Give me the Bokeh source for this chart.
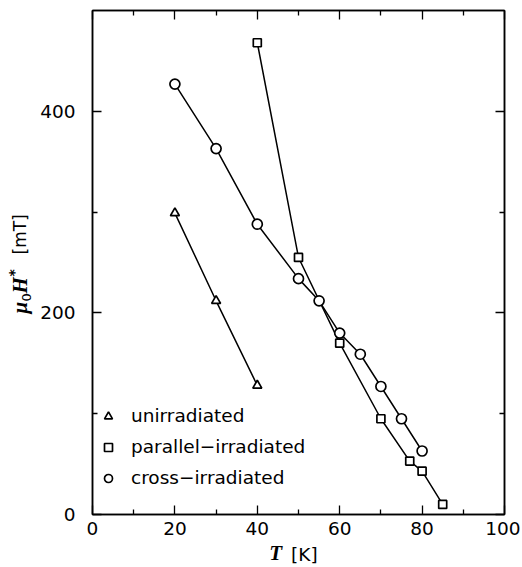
from bokeh.plotting import figure
from bokeh.models import (FixedTicker, LinearAxis, Legend, LegendItem, Label, Range1d)
from bokeh.layouts import row
from bokeh.embed import file_html
from bokeh.resources import INLINE

# ---- data ----
T_un = [20, 30, 40]
H_un = [299, 212, 128]
T_par = [40, 50, 60, 70, 77, 80, 85]
H_par = [468, 255, 170, 95, 53, 43, 10]
T_cross = [20, 30, 40, 50, 55, 60, 65, 70, 75, 80]
H_cross = [427, 363, 288, 234, 212, 180, 159, 127, 95, 63]
labels = ["unirradiated", "parallel\u2212irradiated", "cross\u2212irradiated"]
x_ticks = [0, 20, 40, 60, 80, 100]
x_minor = [10, 30, 50, 70, 90]
y_ticks = [0, 200, 400]
y_minor = [100, 300]

SANS = "DejaVu Sans"
SERIF = "Liberation Serif"
FS = "18.5px"

YLAB_W = 36
MAIN_W = 484
MAIN_H = 566
FRAME_TOP = 10
FRAME_BOTTOM = 514

p = figure(width=MAIN_W, height=MAIN_H, output_backend="svg", toolbar_location=None,
           x_range=Range1d(0, 100), y_range=Range1d(0, 500),
           min_border_left=92 - YLAB_W, min_border_right=16, min_border_top=FRAME_TOP,
           min_border_bottom=MAIN_H - FRAME_BOTTOM, x_axis_type=None, y_axis_type=None)
p.grid.visible = False
p.outline_line_color = "black"
p.outline_line_width = 1.5
p.background_fill_color = "white"
p.border_fill_color = "white"

def style_axis(ax, show_labels):
    ax.axis_line_color = "black"
    ax.axis_line_width = 1.5
    ax.major_tick_line_width = 1.3
    ax.minor_tick_line_width = 1.3
    ax.major_tick_in = 9
    ax.major_tick_out = 0
    ax.minor_tick_in = 5
    ax.minor_tick_out = 0
    ax.major_label_text_font = SANS
    ax.major_label_text_font_size = FS
    ax.major_label_text_color = "black"
    if not show_labels:
        ax.major_label_text_font_size = "1px"
        ax.major_label_standoff = 0

xb = LinearAxis(ticker=FixedTicker(ticks=x_ticks, minor_ticks=x_minor))
style_axis(xb, True)
xb.major_label_standoff = 7
p.add_layout(xb, "below")
xt = LinearAxis(ticker=FixedTicker(ticks=x_ticks, minor_ticks=x_minor))
style_axis(xt, False)
xt.major_label_overrides = {t: "" for t in x_ticks}
p.add_layout(xt, "above")

yl = LinearAxis(ticker=FixedTicker(ticks=y_ticks, minor_ticks=y_minor))
style_axis(yl, True)
yl.major_label_standoff = 17
p.add_layout(yl, "left")
yr = LinearAxis(ticker=FixedTicker(ticks=y_ticks, minor_ticks=y_minor))
style_axis(yr, False)
yr.major_label_overrides = {t: "" for t in y_ticks}
p.add_layout(yr, "right")

# ---- series ----
lw = 1.5
p.line(T_un, H_un, line_color="black", line_width=lw)
p.line(T_par, H_par, line_color="black", line_width=lw)
p.line(T_cross, H_cross, line_color="black", line_width=lw)
r_un = p.scatter(T_un, H_un, marker="triangle", size=9, line_color="black",
                 line_width=1.7, fill_color="white")
r_par = p.scatter(T_par, H_par, marker="square", size=8, line_color="black",
                  line_width=1.7, fill_color="white")
r_cross = p.scatter(T_cross, H_cross, marker="circle", size=10, line_color="black",
                    line_width=1.7, fill_color="white")

legend = Legend(items=[LegendItem(label=labels[0], renderers=[r_un]),
                       LegendItem(label=labels[1], renderers=[r_par]),
                       LegendItem(label=labels[2], renderers=[r_cross])],
                location=(6, 26), padding=0, margin=0, spacing=10,
                label_height=20, glyph_height=20, glyph_width=20, label_standoff=13,
                label_text_font=SANS, label_text_font_size=FS, label_text_color="black",
                border_line_color=None, background_fill_alpha=0)
p.add_layout(legend)

def lab(f, x, y, text, font, size, style="normal", angle=0, side=None):
    l = Label(x=x, y=y, text=text, text_font=font, text_font_size=size,
              text_font_style=style, angle=angle, angle_units="deg",
              text_align="left", text_baseline="alphabetic", text_color="black")
    if side is None:
        f.add_layout(l)
    else:
        f.add_layout(l, side)

# x title "T [K]" in the main figure's side panels (side-panel labels are not clipped)
lab(p, 42.9, -38.3, "T", SERIF, "21px", "bold italic", side="right")
lab(p, 48.2, -39.2, "[K]", SANS, FS, side="below")

# ---- helper figure carrying the y title; its frame aligns with the main frame,
#      so its y range is given in page pixels (top 10, bottom 514) ----
fy = figure(width=YLAB_W, height=MAIN_H, output_backend="svg", toolbar_location=None,
            x_range=Range1d(0, YLAB_W), y_range=Range1d(FRAME_BOTTOM, FRAME_TOP),
            min_border=0, x_axis_type=None, y_axis_type=None)
fy.grid.visible = False
fy.outline_line_color = None
fy.background_fill_color = "white"
fy.border_fill_color = "white"

# y title: mu0H* [mT]  (reads bottom to top; y in page pixels)
lab(fy, 19.6, 313, "\u03bc", SERIF, "21px", "bold italic", 90)
lab(fy, 25.8, 301, "0", SANS, "13px", "normal", 90)
lab(fy, 19.6, 293, "H", SERIF, "21px", "bold italic", 90)
lab(fy, 13.4, 276, "*", SANS, "14px", "bold", 90)
lab(fy, 19.2, 254, "[mT]", SANS, "17px", "normal", 90)

layout = row(fy, p, spacing=0)
open("out.html", "w").write(file_html(layout, INLINE))
